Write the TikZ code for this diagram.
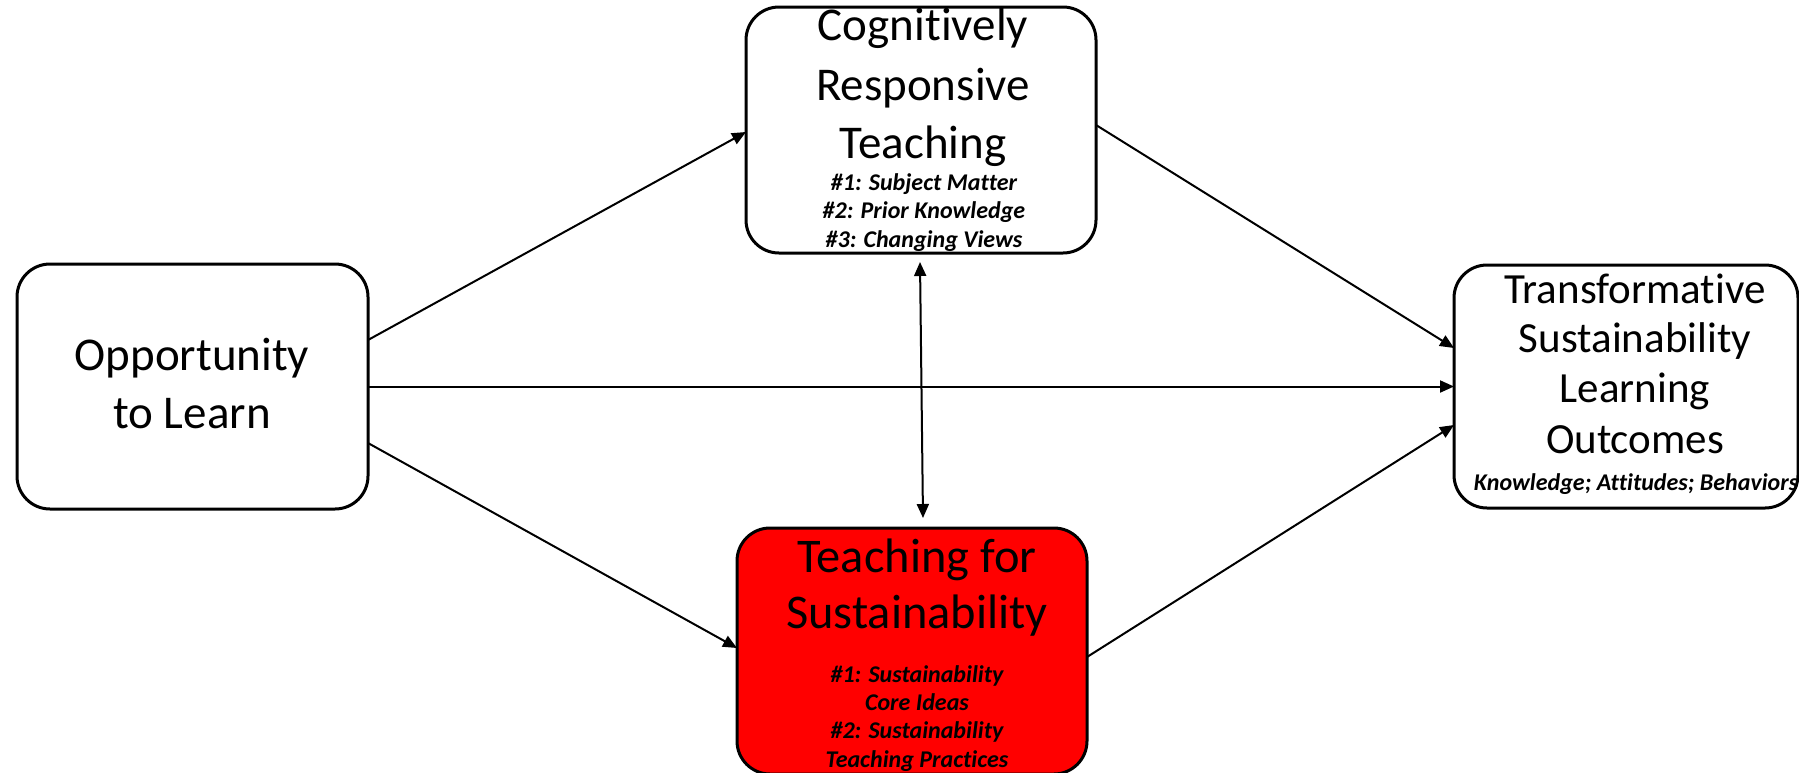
\documentclass[tikz,border=0pt]{standalone}
\usepackage{fontspec}
\setmainfont{Carlito}[Ligatures=NoCommon]
\usetikzlibrary{arrows.meta}
\begin{document}
\begin{tikzpicture}[x=0.5pt,y=-0.5pt,
  box/.style={draw=black, line width=1.5pt, rounded corners=16.5pt, inner sep=0pt, outer sep=0pt},
  conn/.style={line width=1pt, -{Triangle[length=7pt,width=6pt]}},
  dconn/.style={line width=1pt, {Triangle[length=7pt,width=6pt]}-{Triangle[length=7pt,width=6pt]}},
  big/.style={anchor=base, inner sep=0pt, font=\fontsize{23.5}{28}\selectfont},
  bigger/.style={anchor=base, inner sep=0pt, font=\fontsize{24.2}{29}\selectfont},
  mid/.style={anchor=base, inner sep=0pt, font=\fontsize{21.5}{26}\selectfont},
  small/.style={anchor=base, inner sep=0pt, font=\fontsize{12}{14}\selectfont\bfseries\itshape}]
\useasboundingbox (0,0) rectangle (1799,772);
% boxes
\node[box, fill=white, minimum width=175.5pt, minimum height=122.5pt] (opp) at (192.5,386.5) {};
\node[box, fill=white, minimum width=175pt, minimum height=123pt] (crt) at (921,130) {};
\node[box, fill=red, minimum width=175pt, minimum height=123pt] (tfs) at (912,651) {};
\node[box, fill=white, minimum width=172pt, minimum height=121.5pt] (tslo) at (1626,386.5) {};
% texts
\node[big] (opp1) at (192,370) {Opportunity};
\node[big] (opp2) at (192,428) {to Learn};
\node[big] (crt1) at (923,40) {Cognitively};
\node[big] (crt2) at (923,100) {Responsive};
\node[big] (crt3) at (923,158) {Teaching};
\node[small] (crt4) at (924,190) {\#1: Subject Matter};
\node[small] (crt5) at (924,218) {\#2: Prior Knowledge};
\node[small] (crt6) at (924,247) {\#3: Changing Views};
\node[bigger] (tfs1) at (917,572) {Teaching for};
\node[bigger] (tfs2) at (917,628) {Sustainability};
\node[small] (tfs3) at (917,682) {\#1: Sustainability};
\node[small] (tfs4) at (917,710) {Core Ideas};
\node[small] (tfs5) at (917,738) {\#2: Sustainability};
\node[small] (tfs6) at (917,767) {Teaching Practices};
\node[mid] (tslo1) at (1635,303) {Transformative};
\node[mid] (tslo2) at (1635,352) {Sustainability};
\node[mid] (tslo3) at (1635,402) {Learning};
\node[mid] (tslo4) at (1635,453) {Outcomes};
\node[small] (tslo5) at (1636,490) {Knowledge; Attitudes; Behaviors};
% connectors
\draw[conn] ([yshift=23.25pt]opp.east) -- ([yshift=-1pt]crt.west);
\draw[conn] (opp.east) -- (opp.east -| tslo.west);
\draw[conn] ([yshift=-28.25pt]opp.east) -- ([yshift=1.5pt]tfs.west);
\draw[conn] ([yshift=2.5pt]crt.east) -- ([yshift=19.25pt]tslo.west);
\draw[conn] ([yshift=-3pt]tfs.east) -- ([yshift=-19.25pt]tslo.west);
\draw[dconn] ([xshift=-0.5pt,yshift=-4.5pt]crt.south) -- ([xshift=5.5pt,yshift=5pt]tfs.north);
\end{tikzpicture}
\end{document}
